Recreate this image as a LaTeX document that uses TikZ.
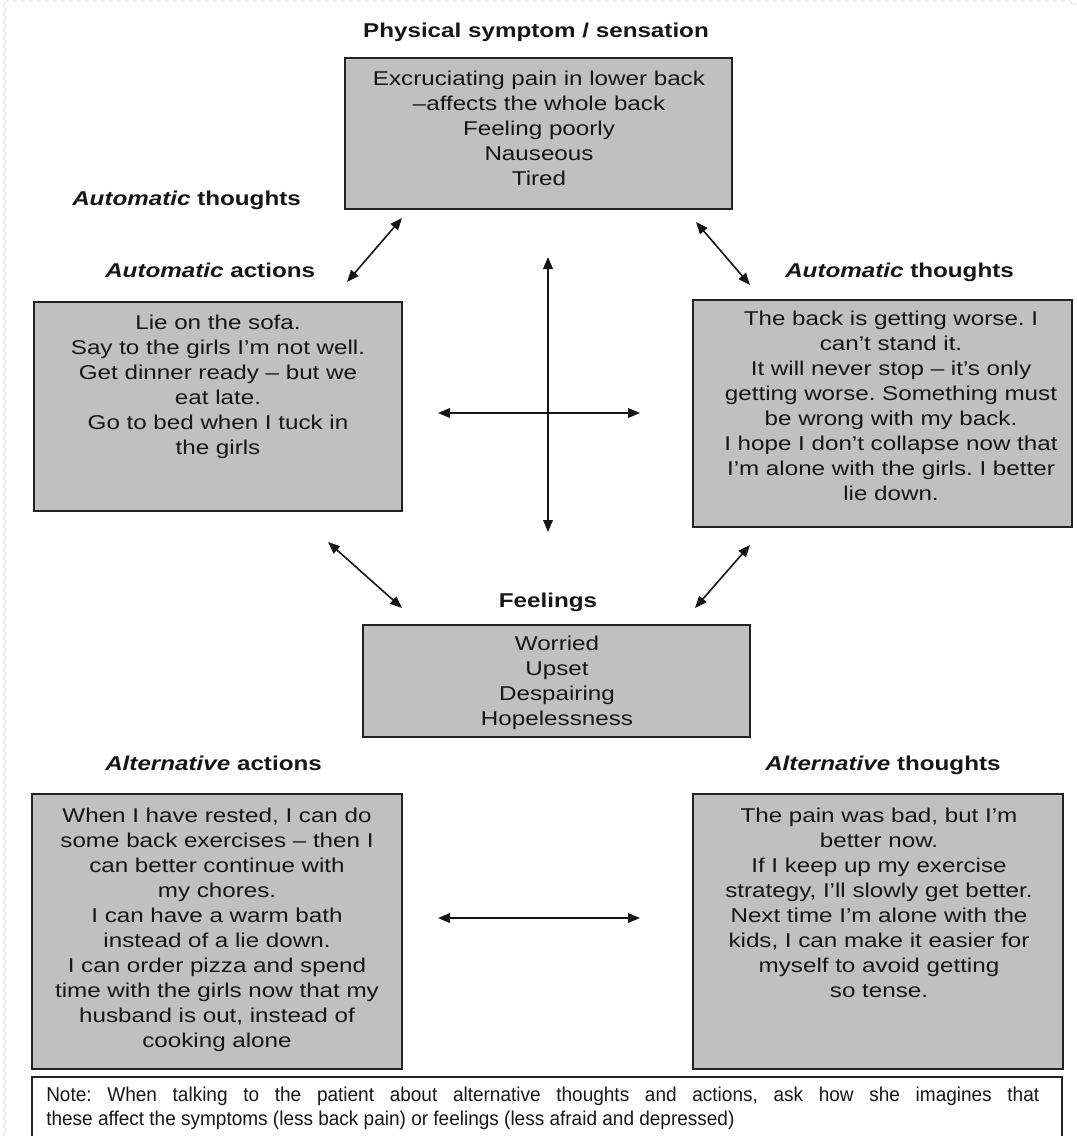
\documentclass[tikz,border=0pt]{standalone}
\usepackage{fontspec}
\setmainfont{Liberation Sans}[FakeStretch=1.21]
\newfontfamily\notefont{Liberation Sans}[FakeStretch=0.95]
\usetikzlibrary{arrows.meta,decorations.pathmorphing}
\definecolor{ink}{HTML}{161616}
\definecolor{edge}{HTML}{222222}
\definecolor{boxgray}{HTML}{C0C0C0}
\definecolor{texture}{HTML}{E6E6E6}
\frenchspacing
\begin{document}
\begin{tikzpicture}[x=0.75pt,y=-0.75pt,
  every node/.style={text=ink, font=\fontsize{15}{18.75}\selectfont},
  gbox/.style 2 args={draw=edge, line width=1.5pt, fill=boxgray, anchor=north west,
    inner sep=0pt, outer sep=0pt, minimum width=#1*0.75pt, minimum height=#2*0.75pt},
  btext/.style={anchor=base, align=center, inner sep=0pt, text width=#1*0.75pt},
  head/.style={font=\fontsize{15}{18.75}\selectfont\bfseries, inner sep=0pt},
  link/.style={line width=1.2pt, draw=ink,
    {Triangle[length=9pt,width=7.2pt]}-{Triangle[length=9pt,width=7.2pt]}},
  wave/.style={draw=texture, line width=0.8pt,
    decorate, decoration={snake, segment length=6pt, amplitude=1.2pt}}
]
\useasboundingbox (0,0) rectangle (1076,1136);
\fill[white] (0,0) rectangle (1076,1136);
\draw[wave] (5,1136) -- (5,4) -- (1076,4);

% headings
\node[head, anchor=base] (ttl) at (536,37) {Physical symptom / sensation};
\node[head, anchor=base west] (lat) at (72,205) {\textit{Automatic} thoughts};
\node[head, anchor=base west] (laa) at (105,277) {\textit{Automatic} actions};
\node[head, anchor=base west] (rat) at (785,277) {\textit{Automatic} thoughts};
\node[head, anchor=base] (feel) at (548,607) {Feelings};
\node[head, anchor=base west] (alta) at (105,770) {\textit{Alternative} actions};
\node[head, anchor=base west] (altt) at (765,770) {\textit{Alternative} thoughts};

% boxes
\node[gbox={387}{151}] (sym) at (345,58) {};
\node[btext=380] (symt) at (539,85) {Excruciating pain in lower back\\
  –affects the whole back\\ Feeling poorly\\ Nauseous\\ Tired};

\node[gbox={368}{209}] (act) at (34,302) {};
\node[btext=360] (actt) at (218,329) {Lie on the sofa.\\
  Say to the girls I’m not well.\\ Get dinner ready – but we\\ eat late.\\
  Go to bed when I tuck in\\ the girls};

\node[gbox={379}{227}] (tho) at (693,300) {};
\node[btext=372] (thot) at (891,325) {The back is getting worse. I\\ can’t stand it.\\
  It will never stop – it’s only\\ getting worse. Something must\\
  be wrong with my back.\\ I hope I don’t collapse now that\\
  I’m alone with the girls. I better\\ lie down.};

\node[gbox={387}{112}] (fel) at (363,625) {};
\node[btext=380] (felt) at (557,650) {Worried\\ Upset\\ Despairing\\ Hopelessness};

\node[gbox={370}{275}] (aact) at (32,794) {};
\node[btext=364] (aactt) at (217,822) {When I have rested, I can do\\
  some back exercises – then I\\ can better continue with\\ my chores.\\
  I can have a warm bath\\ instead of a lie down.\\
  I can order pizza and spend\\ time with the girls now that my\\
  husband is out, instead of\\ cooking alone};

\node[gbox={370}{275}] (atho) at (693,794) {};
\node[btext=364] (athot) at (879,822) {The pain was bad, but I’m\\ better now.\\
  If I keep up my exercise\\ strategy, I’ll slowly get better.\\
  Next time I’m alone with the\\ kids, I can make it easier for\\
  myself to avoid getting\\ so tense.};

% note
\node[draw=edge, line width=1.5pt, fill=white, anchor=north west, inner sep=0pt,
  outer sep=0pt, minimum width=1030*0.75pt, minimum height=80*0.75pt] (note) at (32,1077) {};
\node[anchor=base west, align=justify, inner sep=0pt, text width=993*0.75pt,
  font=\notefont\fontsize{15}{18}\selectfont] (notet) at (46,1101)
  {Note: When talking to the patient about alternative thoughts and actions, ask how she imagines that\linebreak
   these affect the symptoms (less back pain) or feelings (less afraid and depressed)};

% arrow end points
\coordinate (p1) at (347,282); \coordinate (p2) at (402,218);
\coordinate (p3) at (696,222); \coordinate (p4) at (750,285);
\coordinate (p5) at (548,257); \coordinate (p6) at (548,532);
\coordinate (p7) at (438,413); \coordinate (p8) at (640,413);
\coordinate (p9) at (328,542); \coordinate (p10) at (402,608);
\coordinate (p11) at (750,545); \coordinate (p12) at (695,608);
\coordinate (p13) at (438,918); \coordinate (p14) at (640,918);

\draw[link] (p1) -- (p2);
\draw[link] (p3) -- (p4);
\draw[link] (p5) -- (p6);
\draw[link] (p7) -- (p8);
\draw[link] (p9) -- (p10);
\draw[link] (p11) -- (p12);
\draw[link] (p13) -- (p14);
\end{tikzpicture}
\end{document}
